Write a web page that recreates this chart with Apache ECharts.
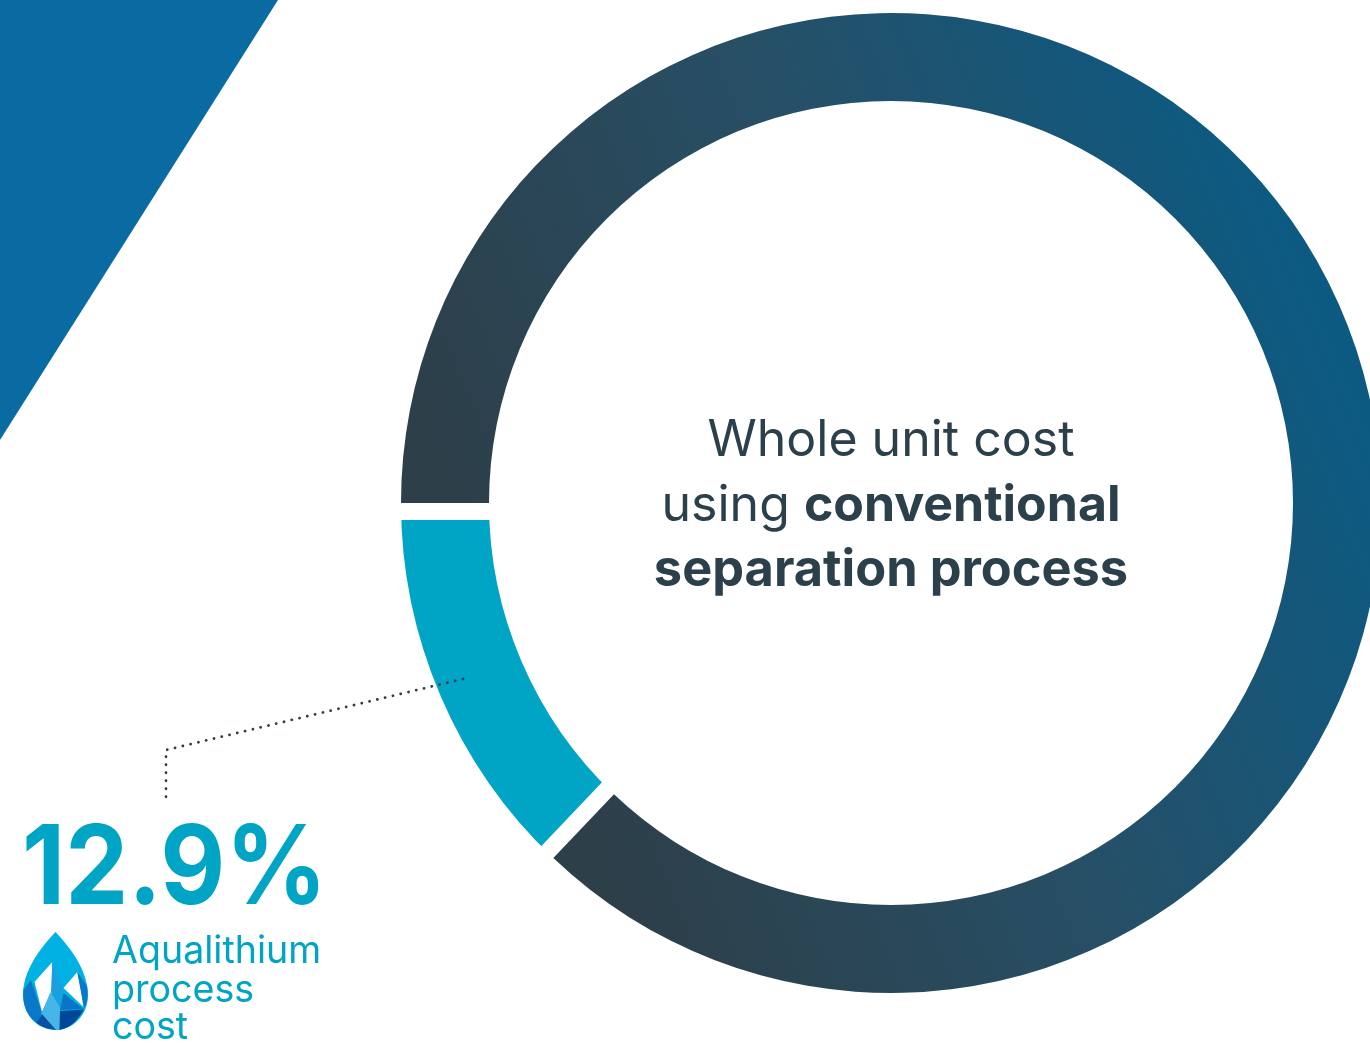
<!DOCTYPE html>
<html>
<head>
<meta charset="utf-8">
<style>
  html, body { margin: 0; padding: 0; background: #fff; overflow: hidden; }
  #chart { width: 1370px; height: 1043px; }
</style>
<script src="https://cdn.jsdelivr.net/npm/echarts@6/dist/echarts.min.js"></script>
</head>
<body>
<div id="chart"></div>
<script>
// Share of the whole unit cost, in percent
const aqualithiumShare = 12.9;
const remainderShare = 87.1;

const headingLines = ['Whole unit cost', 'using', 'conventional', 'separation process'];
const calloutLines = ['Aqualithium', 'process', 'cost'];

const INK = '#2c404c';
const TEAL = '#00a4c4';
const FONT = 'Inter, "Noto Sans", sans-serif';

// The teal arc keeps an even white margin along its two cut ends. The margin is
// a white outline painted under the dark arc, so the teal radii are widened by
// the same amount to land on the dark arc's edges.
const GAP = 17;
const OUTER = 490;
const INNER = 402;
const CENTER = [891, 503];

const none = { color: 'transparent', borderWidth: 0 };

const darkGradient = new echarts.graphic.LinearGradient(560, 760, 1370, 430, [
  { offset: 0, color: '#2d3f49' },
  { offset: 0.5, color: '#274f66' },
  { offset: 1, color: '#0c5a82' }
], true);

const pieBase = {
  type: 'pie',
  center: CENTER,
  startAngle: 180,
  clockwise: false,
  silent: true,
  label: { show: false },
  labelLine: { show: false },
  emphasis: { disabled: true }
};

// Water drop emblem: outline first, then its facets
const dropOutline = 'M55.5 932 C50 938 23 965 23 995 C23 1015 38 1030 55.5 1030 C73 1030 88 1015 88 995 C88 965 61 938 55.5 932 Z';
const dropFacets = [
  ['#0a78c8', 'M31 980 L23.5 990 C22 1005 28 1018 37 1023 L42 1013 Z'],
  ['#ffffff', 'M52.3 962 L34.5 982 L42 1012 L53 990 Z'],
  ['#1a9fe0', 'M52.3 962 L63 988 L60.5 1008 L51 992 Z'],
  ['#46b6e8', 'M50.5 992 L60.3 1008 L59.5 1030 C50 1028 45 1024 41 1014 Z'],
  ['#0650a6', 'M42 1014 L56 1030 C48 1029 42 1027 36.5 1023 Z'],
  ['#ffffff', 'M77.3 972 L63.5 988 L83.5 1007 L81 990 Z'],
  ['#0a75c5', 'M63.5 993 L83.5 1009 L60 1010 Z'],
  ['#0878c8', 'M77.3 972 L87 986 C88.5 995 87 1004 84 1008 Z'],
  ['#00479a', 'M60 1011 L84 1009.5 C78 1020 70 1028 59.5 1030 Z']
];

// Each emblem path becomes a shape class the graphic component can build
const emblemPaths = [['#00b2e3', dropOutline], ...dropFacets];
emblemPaths.forEach(([, pathData], i) => {
  echarts.graphic.registerShape('dropPart' + i, echarts.graphic.extendPath(pathData, {}));
});

const chart = echarts.init(document.getElementById('chart'), null, { renderer: 'canvas' });

const centred = (text, x, y, size, weight, fill) => ({
  type: 'text',
  z: 20,
  style: { text, x, y, fill, font: `${weight} ${size}px ${FONT}`, textAlign: 'center', textVerticalAlign: 'middle' }
});
const leftText = (text, x, y, size, weight, fill) => ({
  type: 'text',
  z: 20,
  style: { text, x, y, fill, font: `${weight} ${size}px ${FONT}`, textAlign: 'left', textVerticalAlign: 'middle' }
});

chart.setOption({
  animation: false,
  backgroundColor: '#ffffff',
  series: [
    {
      ...pieBase,
      z: 1,
      radius: [INNER - GAP, OUTER + GAP],
      data: [
        { value: aqualithiumShare, name: 'Aqualithium process cost',
          itemStyle: { color: TEAL, borderColor: '#ffffff', borderWidth: GAP * 2 } },
        { value: remainderShare, name: 'spacer', itemStyle: none }
      ]
    },
    {
      ...pieBase,
      z: 2,
      radius: [INNER, OUTER],
      data: [
        { value: aqualithiumShare, name: 'spacer', itemStyle: none },
        { value: remainderShare, name: 'Whole unit cost',
          itemStyle: { color: darkGradient, borderWidth: 0 } }
      ]
    }
  ],
  graphic: [
    // Corner wedge
    { type: 'polygon', z: 0, shape: { points: [[0, 0], [278, 0], [0, 440]] }, style: { fill: '#0a6ba3' } },
    // Leader from the teal arc down to the callout
    { type: 'polyline', z: 10,
      shape: { points: [[463, 679], [166, 750], [166, 797]] },
      style: { stroke: INK, lineWidth: 2.8, lineDash: [0.1, 7.9], lineCap: 'round', fill: 'none' } },
    // Centre text
    centred(headingLines[0], 891, 441, 50, 400, INK),
    {
      type: 'text', z: 20,
      style: {
        text: `{a|${headingLines[1]}\u00a0}{b|${headingLines[2]}}`,
        x: 891, y: 506, textAlign: 'center', textVerticalAlign: 'middle', fill: INK,
        rich: {
          a: { font: `400 50px ${FONT}`, fill: INK },
          b: { font: `700 50px ${FONT}`, fill: INK }
        }
      }
    },
    centred(headingLines[3], 891, 571, 50.5, 700, INK),
    // Callout
    { ...leftText(`${aqualithiumShare}%`, 0, 0, 110, 700, TEAL), x: 22, y: 871, scaleX: 0.91 },
    leftText(calloutLines[0], 112, 952, 37.6, 400, TEAL),
    leftText(calloutLines[1], 112, 991, 37.6, 400, TEAL),
    leftText(calloutLines[2], 112, 1028, 37.6, 400, TEAL),
    // Drop emblem
    ...emblemPaths.map(([fill], i) => ({ type: 'dropPart' + i, z: 15 + (i ? 1 : 0), style: { fill } }))
  ]
});
</script>
</body>
</html>
